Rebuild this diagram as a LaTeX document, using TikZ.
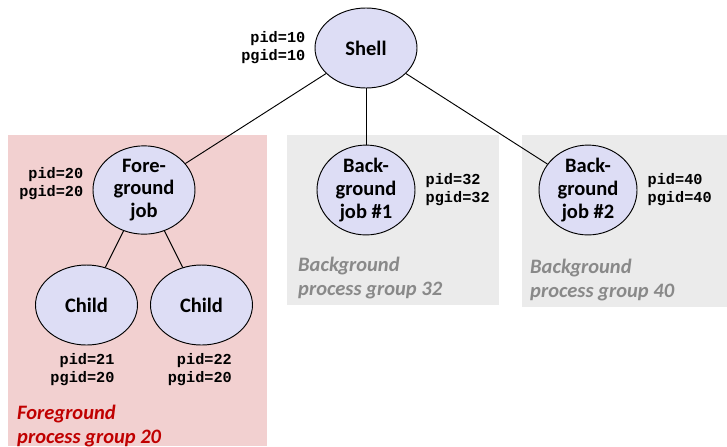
\documentclass[tikz,border=0pt]{standalone}
\usepackage{fontspec}
\setmainfont{Carlito}
\newfontfamily\pidfont{Liberation Mono}
\usetikzlibrary{shapes.geometric,positioning}
\definecolor{jobfill}{HTML}{DDDDF5}
\definecolor{fgbox}{HTML}{F2D0D0}
\definecolor{bgbox}{HTML}{EBEBEB}
\definecolor{fgtext}{HTML}{C00000}
\definecolor{bgtext}{HTML}{898989}

\begin{document}
\begin{tikzpicture}[x=0.03cm,y=0.03cm,
  proc/.style={ellipse,draw,fill=jobfill,line width=0.8pt,inner sep=0pt,
    minimum width=3.06cm,minimum height=2.4cm,align=center,
    font=\fontsize{17.5}{19.5}\selectfont\bfseries},
  ids/.style={font=\pidfont\fontsize{13}{15.5}\selectfont\bfseries,inner sep=0pt},
  grp/.style={font=\fontsize{17.5}{20.5}\selectfont\bfseries\itshape,
    align=left,inner sep=0pt,anchor=north west},
  edge from parent/.style={draw,line width=0.8pt},
  level 1/.style={sibling distance=6.66cm,level distance=4.26cm},
  level 2/.style={sibling distance=3.45cm,level distance=3.45cm}]
  \useasboundingbox (0,0) rectangle (727,-446);
  % group boxes
  \fill[fgbox] (8,-135) rectangle (267,-446);
  \fill[bgbox] (287,-135) rectangle (499,-305);
  \fill[bgbox] (522,-135) rectangle (727,-307);
  \node [grp,text=fgtext] (fgname) at (17,-405) {Foreground\\process group 20};
  \node [grp,text=bgtext] (bganame) at (298,-257) {Background\\process group 32};
  \node [grp,text=bgtext] (bgbname) at (530,-259) {Background\\process group 40};

  \node [proc] (s) at (366,-48) {Shell}
    child {
      node [proc,minimum height=2.58cm] (f) {Fore-\\ground\\job}
        child {
          node [proc] (c) {Child}
        }
        child {
          node [proc] (d) {Child}
        }
    }
    child {
      node [proc,minimum width=2.94cm,minimum height=2.64cm] (a) {Back-\\ground\\job \#1}
    }
    child {
      node [proc,minimum width=2.94cm,minimum height=2.64cm] (b) {Back-\\ground\\job \#2}
    }
;
  % pid / pgid labels
  \node [ids,align=right,left=0.27cm of s] (sid) {pid=10\\pgid=10};
  \node [ids,align=right,left=0.27cm of f,yshift=0.18cm] (fid) {pid=20\\pgid=20};
  \node [ids,align=right,below=0.22cm of c,xshift=-0.12cm] (cid) {pid=21\\pgid=20};
  \node [ids,align=right,below=0.22cm of d,xshift=-0.05cm] (did) {pid=22\\pgid=20};
  \node [ids,align=left,right=0.3cm of a] (aid) {pid=32\\pgid=32};
  \node [ids,align=left,right=0.3cm of b] (bid) {pid=40\\pgid=40};
\end{tikzpicture}
\end{document}
